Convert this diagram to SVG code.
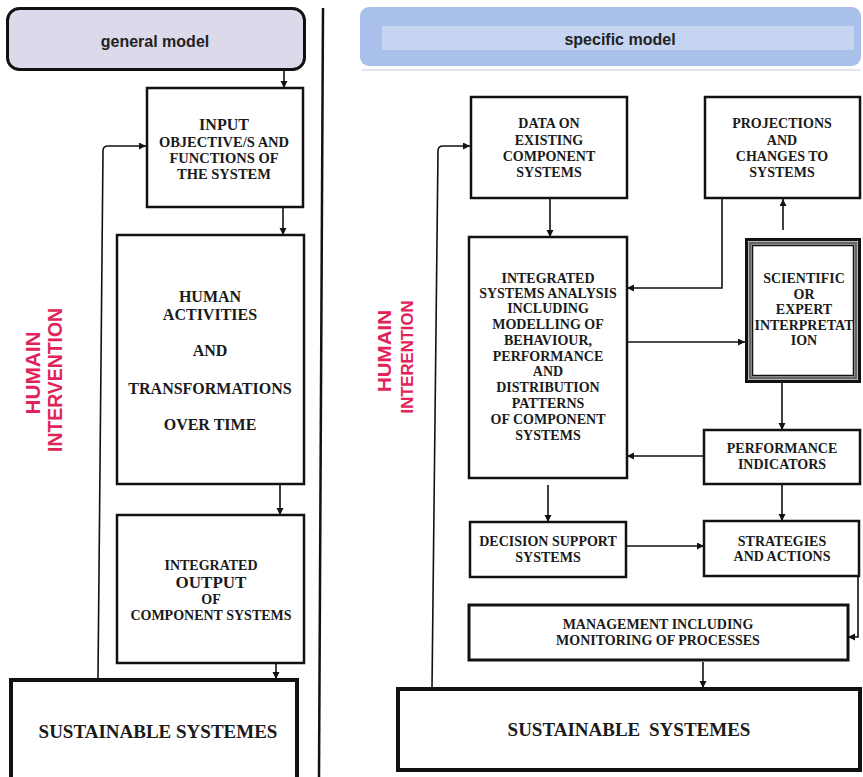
<svg xmlns="http://www.w3.org/2000/svg" width="863" height="777" viewBox="0 0 863 777">
<style>
.box{fill:#fff;stroke:#111;stroke-width:2.5}
.thick{fill:#fff;stroke:#111;stroke-width:4}
.mid{fill:#fff;stroke:#111;stroke-width:3}
.t{font-family:"Liberation Serif","Times New Roman",serif;font-weight:bold;fill:#1a1a1a;text-anchor:middle;font-size:14px}
.t16{font-size:16px}
.t17{font-size:17px}
.t19{font-size:19px}
.t145{font-size:14.5px}
.h{font-family:"Liberation Sans",Arial,sans-serif;font-weight:bold;fill:#222;text-anchor:middle;font-size:16px}
.red{font-family:"Liberation Sans",Arial,sans-serif;font-weight:bold;fill:#e0245a;text-anchor:middle}
.c{fill:none;stroke:#111;stroke-width:1.6}
</style>
<defs>
<marker id="ah" markerUnits="userSpaceOnUse" markerWidth="8" markerHeight="8" refX="7" refY="3.5" orient="auto">
<path d="M0,0 L7,3.5 L0,7 z" fill="#111"/>
</marker>
</defs>
<rect width="863" height="777" fill="#fff"/>

<!-- headers -->
<g id="general-model">
<rect x="7.5" y="8.5" width="297" height="61" rx="12" fill="#dcd9eb" stroke="#111" stroke-width="3"/>
<text class="h" x="155" y="47">general model</text>
</g>
<g id="specific-model">
<rect x="360" y="7" width="501" height="59" rx="9" fill="#a9c0ea"/>
<rect x="382" y="26" width="472" height="24" fill="#c5d4f1"/>
<line x1="362" y1="70" x2="861" y2="70" stroke="#dde" stroke-width="1.5"/>
<text class="h" x="620" y="45">specific model</text>
</g>
<line id="divider" x1="323" y1="8" x2="319" y2="777" stroke="#111" stroke-width="2.5"/>

<!-- red labels -->
<g id="label-left">
<text class="red" font-size="20" transform="translate(40,373) rotate(-90)" textLength="83" lengthAdjust="spacingAndGlyphs">HUMAIN</text>
<text class="red" font-size="19.5" transform="translate(62,380) rotate(-90)" textLength="144" lengthAdjust="spacingAndGlyphs">INTERVENTION</text>
</g>
<g id="label-right">
<text class="red" font-size="18" transform="translate(391,351) rotate(-90)" textLength="82" lengthAdjust="spacingAndGlyphs">HUMAIN</text>
<text class="red" font-size="16.5" transform="translate(413,357) rotate(-90)" textLength="113" lengthAdjust="spacingAndGlyphs">INTERENTION</text>
</g>

<!-- left nodes -->
<g id="input">
<rect class="box" x="147" y="88" width="156" height="119"/>
<text class="t t16" x="224" y="130">INPUT</text>
<text class="t t145" x="224" y="147">OBJECTIVE/S AND</text>
<text class="t t145" x="224" y="163">FUNCTIONS OF</text>
<text class="t t145" x="224" y="179">THE SYSTEM</text>
</g>
<g id="human">
<rect class="box" x="117" y="235" width="187" height="249"/>
<text class="t t16" x="210" y="302">HUMAN</text>
<text class="t t16" x="210" y="320">ACTIVITIES</text>
<text class="t t16" x="210" y="356">AND</text>
<text class="t t16" x="210" y="394">TRANSFORMATIONS</text>
<text class="t t16" x="210" y="430">OVER TIME</text>
</g>
<g id="output">
<rect class="box" x="117" y="515" width="187" height="148"/>
<text class="t" x="211" y="570">INTEGRATED</text>
<text class="t t17" x="211" y="588">OUTPUT</text>
<text class="t" x="211" y="604">OF</text>
<text class="t" x="211" y="620">COMPONENT SYSTEMS</text>
</g>
<g id="sustainable-left">
<rect class="thick" x="11" y="680" width="286" height="100"/>
<text class="t t19" x="158" y="738">SUSTAINABLE SYSTEMES</text>
</g>

<!-- right nodes -->
<g id="data">
<rect class="box" x="471" y="97" width="156" height="101"/>
<text class="t" x="549" y="128">DATA ON</text>
<text class="t" x="549" y="145">EXISTING</text>
<text class="t" x="549" y="161">COMPONENT</text>
<text class="t" x="549" y="177">SYSTEMS</text>
</g>
<g id="projections">
<rect class="box" x="705" y="97" width="155" height="101"/>
<text class="t" x="782" y="128">PROJECTIONS</text>
<text class="t" x="782" y="145">AND</text>
<text class="t" x="782" y="161">CHANGES TO</text>
<text class="t" x="782" y="177">SYSTEMS</text>
</g>
<g id="integrated">
<rect class="box" x="469" y="237" width="158" height="241"/>
<text class="t" x="548" y="283">INTEGRATED</text>
<text class="t" x="548" y="298">SYSTEMS ANALYSIS</text>
<text class="t" x="548" y="313">INCLUDING</text>
<text class="t" x="548" y="329">MODELLING OF</text>
<text class="t" x="548" y="345">BEHAVIOUR,</text>
<text class="t" x="548" y="361">PERFORMANCE</text>
<text class="t" x="548" y="376">AND</text>
<text class="t" x="548" y="392">DISTRIBUTION</text>
<text class="t" x="548" y="408">PATTERNS</text>
<text class="t" x="548" y="424">OF COMPONENT</text>
<text class="t" x="548" y="440">SYSTEMS</text>
</g>
<g id="scientific">
<rect x="746.5" y="239.5" width="113" height="142" fill="#fff" stroke="#111" stroke-width="3"/>
<rect x="750" y="243" width="106" height="135" fill="none" stroke="#666" stroke-width="3"/>
<rect x="752.5" y="245.5" width="101" height="130" fill="#fff" stroke="#111" stroke-width="1.5"/>
<text class="t" x="804" y="283">SCIENTIFIC</text>
<text class="t" x="804" y="299">OR</text>
<text class="t" x="804" y="314">EXPERT</text>
<text class="t" x="804" y="330">INTERPRETAT</text>
<text class="t" x="804" y="345">ION</text>
</g>
<g id="performance">
<rect class="box" x="704" y="430" width="156" height="54"/>
<text class="t" x="782" y="453">PERFORMANCE</text>
<text class="t" x="782" y="469">INDICATORS</text>
</g>
<g id="decision">
<rect class="box" x="470" y="522" width="156" height="55"/>
<text class="t" x="548" y="546">DECISION SUPPORT</text>
<text class="t" x="548" y="562">SYSTEMS</text>
</g>
<g id="strategies">
<rect class="box" x="704" y="521" width="155" height="55"/>
<text class="t" x="782" y="546">STRATEGIES</text>
<text class="t" x="782" y="561">AND ACTIONS</text>
</g>
<g id="management">
<rect class="mid" x="469" y="605" width="379" height="55"/>
<text class="t" x="658" y="629">MANAGEMENT INCLUDING</text>
<text class="t" x="658" y="645">MONITORING OF PROCESSES</text>
</g>
<g id="sustainable-right">
<rect class="thick" x="398" y="689" width="462" height="81"/>
<text class="t t19" x="629" y="736" word-spacing="4">SUSTAINABLE SYSTEMES</text>
</g>

<!-- connectors -->
<g id="connectors">
<path class="c" d="M284,70 L284,88" marker-end="url(#ah)"/>
<path class="c" d="M283,207 L283,235" marker-end="url(#ah)"/>
<path class="c" d="M280,484 L280,515" marker-end="url(#ah)"/>
<path class="c" d="M276,663 L276,679" marker-end="url(#ah)"/>
<path class="c" stroke-width="2.2" d="M98,678 L103,151 Q103,146 108,146 L146,146" marker-end="url(#ah)"/>

<path class="c" d="M550,198 L550,237" marker-end="url(#ah)"/>
<path class="c" d="M722,198 L722,288 L627,288" marker-end="url(#ah)"/>
<path class="c" d="M783,230 L783,199" marker-end="url(#ah)"/>
<path class="c" d="M627,342 L745,342" marker-end="url(#ah)"/>
<path class="c" d="M782,382 L782,430" marker-end="url(#ah)"/>
<path class="c" d="M704,456 L627,456" marker-end="url(#ah)"/>
<path class="c" d="M782,484 L782,521" marker-end="url(#ah)"/>
<path class="c" d="M548,485 L548,522" marker-end="url(#ah)"/>
<path class="c" d="M626,546 L704,546" marker-end="url(#ah)"/>
<path class="c" d="M858,576 L858,637 L848,637" marker-end="url(#ah)"/>
<path class="c" d="M703,662 L703,688" marker-end="url(#ah)"/>
<path class="c" stroke-width="2.2" d="M432,688 L438,151 Q438,146 443,146 L470,146" marker-end="url(#ah)"/>
</g>
</svg>
